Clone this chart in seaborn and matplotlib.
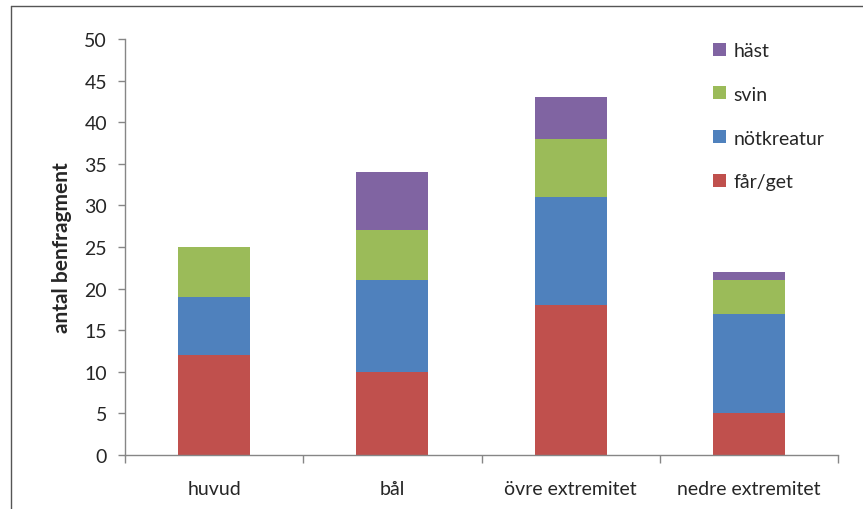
import numpy as np
import pandas as pd
import seaborn as sns
import matplotlib.pyplot as plt
from matplotlib.lines import Line2D
from matplotlib.patches import Patch

# data
categories = ['huvud', 'bål', 'övre extremitet', 'nedre extremitet']
species = ['får/get', 'nötkreatur', 'svin', 'häst']
far_get = [12, 10, 18, 5]
notkreatur = [7, 11, 13, 12]
svin = [6, 6, 7, 4]
hast = [0, 7, 5, 1]
colors = ['#C0504D', '#4F81BD', '#9BBB59', '#8064A2']
y_ticks = list(range(0, 51, 5))

sns.set_theme(style="white")
plt.rcParams['font.family'] = ['Lato', 'DejaVu Sans']

fig = plt.figure(figsize=(8.63, 5.10), dpi=100)
ax = fig.add_axes([125 / 863, 1 - 456 / 510, (838 - 125) / 863, (456 - 40) / 510])

series = [far_get, notkreatur, svin, hast]
bottom = np.zeros(len(categories))
for name, vals, col in zip(species, series, colors):
    df = pd.DataFrame({'cat': categories, 'val': vals})
    sns.barplot(data=df, x='cat', y='val', bottom=bottom, color=col,
                width=0.405, saturation=1, ax=ax, linewidth=0)
    bottom = bottom + np.array(vals)

ax.set_xlim(-0.5, len(categories) - 0.5)
ax.set_ylim(0, 50)
ax.set_yticks(y_ticks)
ax.set_xlabel('')
ax.set_ylabel('antal benfragment', fontsize=15, fontweight='bold', labelpad=9)

for s in ['top', 'right']:
    ax.spines[s].set_visible(False)
for s in ['left', 'bottom']:
    ax.spines[s].set_color('#868686')
    ax.spines[s].set_linewidth(1)

ax.tick_params(axis='y', which='major', left=True, length=5, width=1,
               color='#868686', labelsize=14, pad=8)
ax.tick_params(axis='x', which='major', bottom=False, labelsize=14, pad=12)
ax.set_xticks(np.arange(-0.5, len(categories), 1.0), minor=True)
ax.tick_params(axis='x', which='minor', bottom=True, length=6, width=1,
               color='#868686')

handles = [Patch(facecolor=c, edgecolor='none') for c in colors][::-1]
ax.legend(handles, species[::-1], loc='upper left',
          bbox_to_anchor=(0.80, 1.035), frameon=False, fontsize=14,
          handlelength=0.65, handleheight=0.65, handletextpad=0.4,
          labelspacing=1.38)

# outer frame of the original chart area (partly cropped)
fig.add_artist(Line2D([11 / 863, 11 / 863], [0, 1 - 7 / 510],
                      transform=fig.transFigure, color='#555555', lw=1))
fig.add_artist(Line2D([11 / 863, 1], [1 - 7 / 510, 1 - 7 / 510],
                      transform=fig.transFigure, color='#555555', lw=1))

fig.savefig('out.png', dpi=100)
